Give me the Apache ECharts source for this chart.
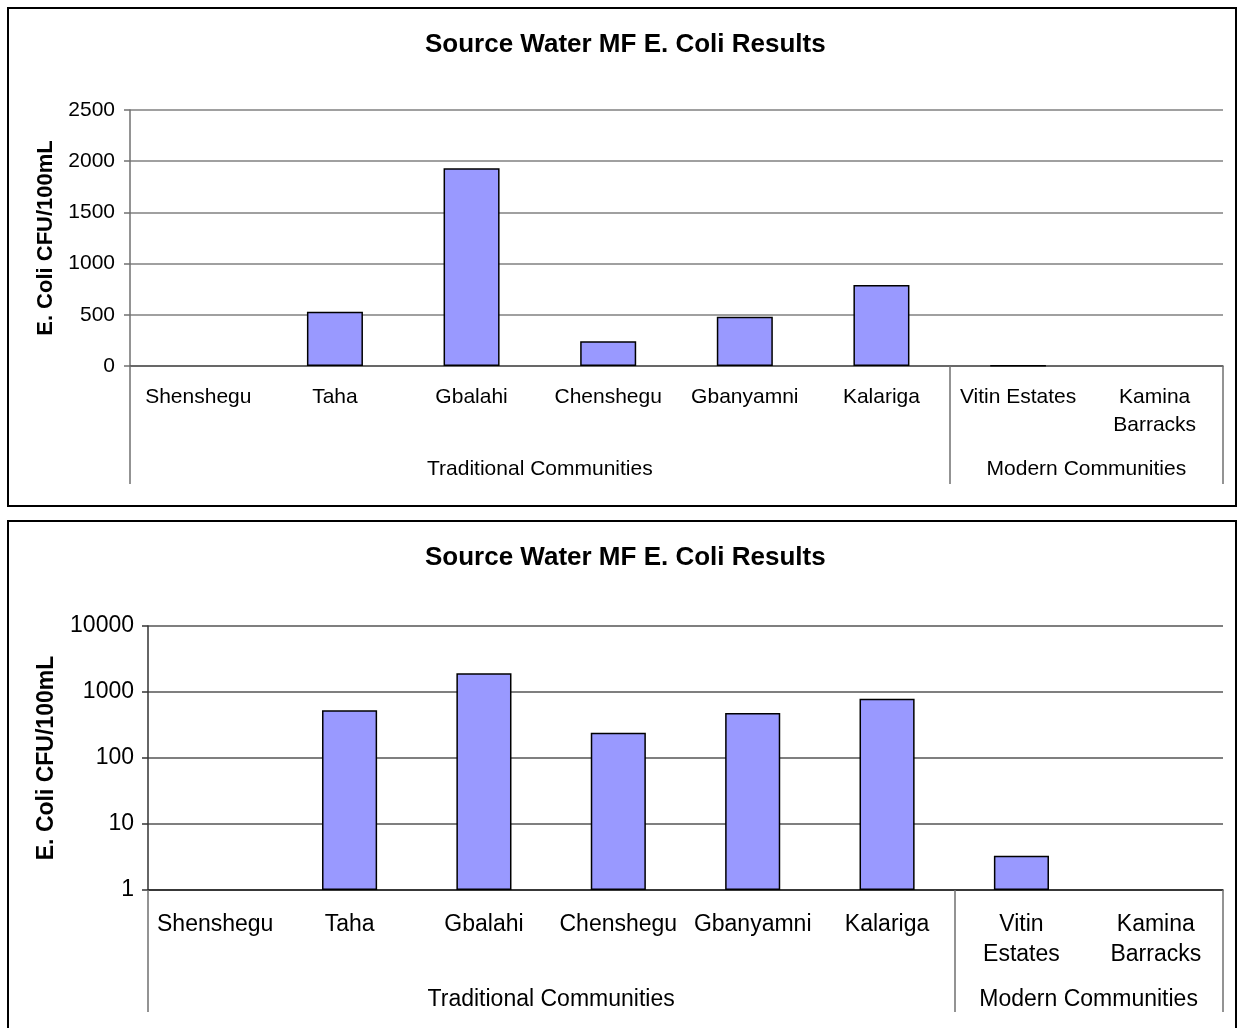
<!DOCTYPE html>
<html>
<head>
<meta charset="utf-8">
<script src="https://cdn.jsdelivr.net/npm/echarts@6/dist/echarts.min.js"></script>
<style>
html,body{margin:0;padding:0;background:#fff;overflow:hidden;}
#c{width:1238px;height:1028px;}
</style>
</head>
<body>
<div id="c"></div>
<script>
var titleText = 'Source Water MF E. Coli Results';
var yAxisName = 'E. Coli CFU/100mL';
var categories = ['Shenshegu','Taha','Gbalahi','Chenshegu','Gbanyamni','Kalariga','Vitin Estates','Kamina Barracks'];
var topLabels = ['Shenshegu','Taha','Gbalahi','Chenshegu','Gbanyamni','Kalariga','Vitin Estates','Kamina\nBarracks'];
var bottomLabels = ['Shenshegu','Taha','Gbalahi','Chenshegu','Gbanyamni','Kalariga','Vitin\nEstates','Kamina\nBarracks'];
var ecoliValues = [0, 530, 1930, 242, 480, 790, 3.3, 0];
var groupNames = ['Traditional Communities','Modern Communities'];
var groupSizes = [6, 2];
var linearTicks = [0, 500, 1000, 1500, 2000, 2500];
var logTicks = [1, 10, 100, 1000, 10000];

var FONT = '"Liberation Sans", Arial, sans-serif';
var barData = ecoliValues.map(function(v){ return v > 0 ? v : '-'; });
var groupBounds = [0];
groupSizes.forEach(function(s){ groupBounds.push(groupBounds[groupBounds.length-1] + s); });
var groupCenters = groupSizes.map(function(s, i){ return groupBounds[i] + s / 2; });
var total = groupBounds[groupBounds.length-1];
function plain(v){ return String(v); }

function groupAxis(gridIndex, tickLen, labelMargin, fs){
  return {
    type: 'value', gridIndex: gridIndex, position: 'bottom', min: 0, max: total,
    axisLine: {show: false}, splitLine: {show: false},
    axisTick: {show: true, customValues: groupBounds, length: tickLen, inside: false,
      lineStyle: {color: '#707070', width: 1.5}},
    axisLabel: {show: true, customValues: groupCenters, margin: labelMargin,
      fontSize: fs, fontFamily: FONT, color: '#000',
      formatter: function(v){ var i = groupCenters.indexOf(v); return i >= 0 ? groupNames[i] : ''; }}
  };
}

var chart = echarts.init(document.getElementById('c'), null, {renderer: 'canvas'});
chart.setOption({
  backgroundColor: '#fff',
  animation: false,
  graphic: [
    {type: 'rect', shape: {x: 8, y: 8, width: 1228, height: 498}, style: {fill: 'none', stroke: '#000', lineWidth: 2}, silent: true},
    {type: 'rect', shape: {x: 8, y: 521, width: 1228, height: 530}, style: {fill: 'none', stroke: '#000', lineWidth: 2}, silent: true}
  ],
  title: [
    {text: titleText, left: 420, top: 27, textStyle: {fontSize: 26, fontWeight: 'bold', fontFamily: FONT, color: '#000'}},
    {text: titleText, left: 420, top: 540, textStyle: {fontSize: 26, fontWeight: 'bold', fontFamily: FONT, color: '#000'}}
  ],
  grid: [
    {left: 130, right: 15, top: 110, height: 256, containLabel: false},
    {left: 148, right: 15, top: 626, height: 264, containLabel: false}
  ],
  xAxis: [
    {type: 'category', gridIndex: 0, data: categories,
      axisLine: {lineStyle: {color: '#555', width: 1.5}}, axisTick: {show: false},
      axisLabel: {interval: 0, margin: 17, fontSize: 21, lineHeight: 28, fontFamily: FONT, color: '#000',
        formatter: function(v, i){ return topLabels[i]; }}},
    {type: 'category', gridIndex: 1, data: categories,
      axisLine: {lineStyle: {color: '#222', width: 1.5}}, axisTick: {show: false},
      axisLabel: {interval: 0, margin: 20, fontSize: 23, lineHeight: 30, fontFamily: FONT, color: '#000',
        formatter: function(v, i){ return bottomLabels[i]; }}},
    groupAxis(0, 118, 93, 21),
    groupAxis(1, 122, 98, 23)
  ],
  yAxis: [
    {type: 'value', gridIndex: 0, min: linearTicks[0], max: linearTicks[linearTicks.length-1], interval: 500,
      name: yAxisName, nameLocation: 'middle', nameGap: 70, nameRotate: 90,
      nameTextStyle: {fontSize: 22, fontWeight: 'bold', fontFamily: FONT, color: '#000'},
      axisLine: {show: true, lineStyle: {color: '#707070', width: 1.5}},
      axisTick: {show: true, length: 6, lineStyle: {color: '#707070', width: 1.5}},
      axisLabel: {margin: 15, fontSize: 21, fontFamily: FONT, color: '#000', formatter: plain},
      splitLine: {show: true, lineStyle: {color: '#808080', width: 1.5}}},
    {type: 'log', gridIndex: 1, logBase: 10, min: logTicks[0], max: logTicks[logTicks.length-1],
      name: yAxisName, nameLocation: 'middle', nameGap: 90, nameRotate: 90,
      nameTextStyle: {fontSize: 23, fontWeight: 'bold', fontFamily: FONT, color: '#000'},
      axisLine: {show: true, lineStyle: {color: '#333', width: 1.5}},
      axisTick: {show: true, length: 6, lineStyle: {color: '#333', width: 1.5}},
      axisLabel: {margin: 14, fontSize: 23, fontFamily: FONT, color: '#000', formatter: plain},
      splitLine: {show: true, lineStyle: {color: '#555', width: 1.5}}}
  ],
  series: [
    {type: 'bar', xAxisIndex: 0, yAxisIndex: 0, data: barData, barWidth: '41%',
      itemStyle: {color: '#9999FF', borderColor: '#000', borderWidth: 1.5}},
    {type: 'bar', xAxisIndex: 1, yAxisIndex: 1, data: barData, barWidth: '41%',
      itemStyle: {color: '#9999FF', borderColor: '#000', borderWidth: 1.5}}
  ]
});
</script>
</body>
</html>
